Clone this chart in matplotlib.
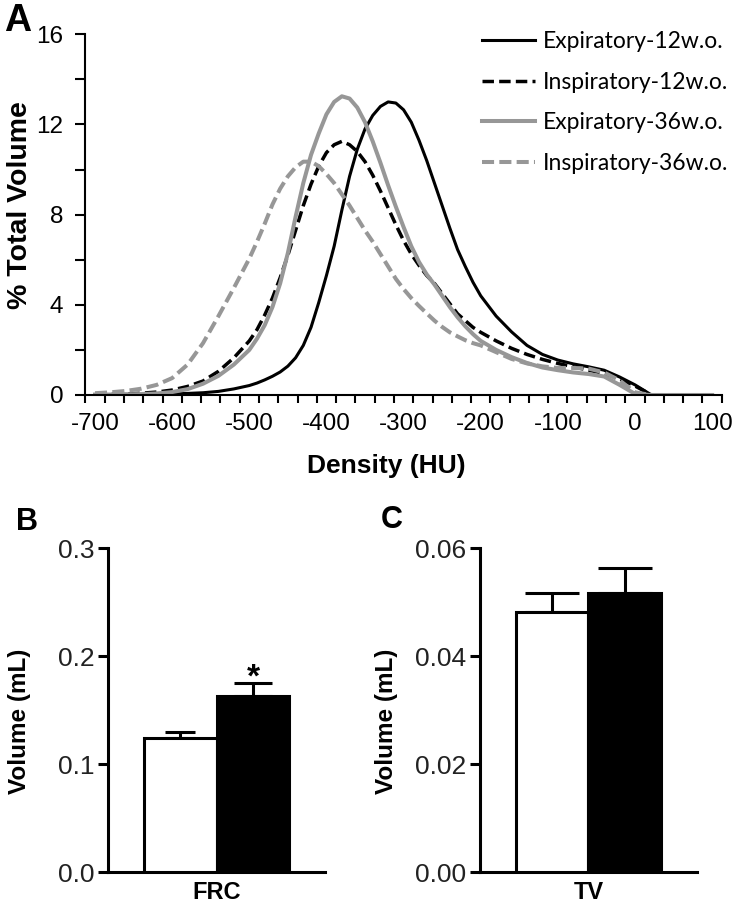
import numpy as np
import matplotlib
matplotlib.use("Agg")
import matplotlib.pyplot as plt

# density histogram (HU vs % total volume)
density = [-700, -680, -660, -640, -620, -600, -580, -560, -540, -520, -500,
           -490, -480, -470, -460, -450, -440, -430, -420, -410, -400,
           -390, -380, -370, -360, -350, -340, -330, -320, -310, -300,
           -290, -280, -270, -260, -250, -240, -230, -220, -210, -200,
           -180, -160, -140, -120, -100, -80, -60, -40, -20, 0, 20, 40, 60, 80, 100]
nan = np.nan
exp_12 = [0.02, 0.02, 0.03, 0.03, 0.04, 0.05, 0.07, 0.1, 0.16, 0.27, 0.42,
          0.53, 0.67, 0.83, 1.02, 1.28, 1.65, 2.2, 3.0, 4.1, 5.3,
          6.6, 8.2, 9.7, 10.9, 11.8, 12.4, 12.8, 13.0, 12.95, 12.65,
          12.1, 11.3, 10.4, 9.4, 8.4, 7.4, 6.45, 5.7, 5.0, 4.4,
          3.5, 2.8, 2.2, 1.8, 1.55, 1.38, 1.25, 1.1, 0.8, 0.45, 0.03, nan, nan, nan, nan]
insp_12 = [0.02, 0.03, 0.05, 0.08, 0.13, 0.22, 0.38, 0.62, 1.05, 1.65, 2.4,
           2.9, 3.55, 4.3, 5.2, 6.2, 7.3, 8.4, 9.35, 10.15, 10.75,
           11.1, 11.25, 11.1, 10.8, 10.35, 9.75, 9.05, 8.3, 7.55, 6.85,
           6.25, 5.75, 5.3, 4.95, 4.5, 4.05, 3.6, 3.3, 3.0, 2.78,
           2.4, 2.07, 1.8, 1.58, 1.4, 1.25, 1.1, 0.95, 0.72, 0.4, 0.03, nan, nan, nan, nan]
exp_36 = [0.02, 0.02, 0.03, 0.04, 0.07, 0.13, 0.26, 0.5, 0.85, 1.35, 2.0,
          2.5, 3.1, 3.9, 4.95, 6.3, 7.9, 9.4, 10.65, 11.6, 12.45,
          13.0, 13.25, 13.15, 12.75, 12.1, 11.25, 10.3, 9.3, 8.35, 7.45,
          6.6, 5.9, 5.35, 4.9, 4.4, 3.9, 3.45, 3.05, 2.7, 2.4,
          2.0, 1.68, 1.42, 1.22, 1.1, 1.0, 0.93, 0.82, 0.45, 0.05, 0, 0, 0, 0, 0]
insp_36 = [0.08, 0.12, 0.18, 0.28, 0.45, 0.75, 1.35, 2.3, 3.5, 4.75, 6.05,
           6.8, 7.6, 8.45, 9.15, 9.7, 10.1, 10.35, 10.35, 10.15, 9.8,
           9.4, 8.9, 8.4, 7.85, 7.3, 6.8, 6.25, 5.7, 5.15, 4.7,
           4.3, 3.95, 3.62, 3.3, 3.02, 2.78, 2.6, 2.43, 2.3, 2.2,
           1.9, 1.6, 1.4, 1.27, 1.2, 1.2, 1.17, 1.0, 0.65, 0.12, 0, 0, 0, 0, 0]
series_names = ["Expiratory-12w.o.", "Inspiratory-12w.o.", "Expiratory-36w.o.", "Inspiratory-36w.o."]

# bar panels: 12 w.o. (white) vs 36 w.o. (black)
frc_mean = [0.1244, 0.1635]
frc_sem = [0.0058, 0.0121]
tv_mean = [0.0482, 0.0518]
tv_sem = [0.0036, 0.0045]

GRAY = "#979797"
SANS = ["Liberation Sans", "DejaVu Sans"]
fig = plt.figure(figsize=(7.38, 9.07), dpi=100)

# ---- panel A
ax = fig.add_axes([0.1157, 0.5645, 0.8623, 0.3977])
ax.plot(density, exp_12, color="black", lw=2.2, label=series_names[0])
ax.plot(density, insp_12, color="black", lw=2.5, ls=(0, (3.3, 1.5)), label=series_names[1])
ax.plot(density, exp_36, color=GRAY, lw=2.9, label=series_names[2])
ax.plot(density, insp_36, color=GRAY, lw=2.9, ls=(0, (3.0, 1.3)), label=series_names[3])

ax.set_xlim(-712.5, 112.5)
ax.set_ylim(0, 16)
for s in ["top", "right"]:
    ax.spines[s].set_visible(False)
for s in ["left", "bottom"]:
    ax.spines[s].set_linewidth(1.5)
ax.set_xticks(np.arange(-712.5, 113, 25))
ax.set_xticklabels([])
ax.set_xticks(np.arange(-700, 101, 100), minor=True)
ax.set_xticklabels(["%d" % v for v in range(-700, 101, 100)], minor=True,
                   family=SANS, fontsize=17.5)
ax.tick_params(axis="x", which="major", direction="out", length=6, width=1.5)
ax.tick_params(axis="x", which="minor", length=0, pad=13)
ax.set_yticks([0, 4, 8, 12, 16])
ax.set_yticks([2, 6, 10, 14], minor=True)
ax.set_yticklabels(["0", "4", "8", "12", "16"], family=SANS, fontsize=17.5)
ax.tick_params(axis="y", which="both", direction="out", length=7, width=1.5, pad=9)

leg = ax.legend(loc="upper left", bbox_to_anchor=(471 / 738, 1 - 20 / 907),
                bbox_transform=fig.transFigure, frameon=False, borderpad=0,
                handlelength=2.3, handletextpad=0.35, labelspacing=0.85,
                prop={"family": "Lato", "size": 16.5})

fig.text(386 / 738, 1 - 466 / 907, "Density (HU)", family=SANS,
         weight="bold", fontsize=19, ha="center", va="center")
fig.text(20 / 738, 1 - 205 / 907, "% Total Volume", family=SANS,
         weight="bold", fontsize=20.5, ha="center", va="center", rotation=90)
fig.text(18 / 738, 1 - 21 / 907, "A", family=SANS,
         weight="bold", fontsize=27, ha="center", va="center")


def bar_panel(left, means, sems, ymax, yticks, fmt, xlabel, caps):
    bx = fig.add_axes([left, 0.0383, 0.2936, 0.3572])
    pos = [0.333, 0.668]
    bx.bar(pos, means, width=0.335, color=["white", "black"],
           edgecolor="black", linewidth=2.2, zorder=3)
    for p, m, e, c in zip(pos, means, sems, caps):
        bx.errorbar([p], [m], yerr=[[0], [e]], fmt="none", ecolor="black",
                    elinewidth=2.2, capsize=c, capthick=2.2, zorder=2)
    bx.set_xlim(0, 1)
    bx.set_ylim(0, ymax)
    for s in ["top", "right"]:
        bx.spines[s].set_visible(False)
    for s in ["left", "bottom"]:
        bx.spines[s].set_linewidth(2.2)
    bx.set_xticks([0.5])
    bx.set_xticklabels([xlabel], family=SANS, weight="bold", fontsize=17)
    bx.tick_params(axis="x", length=0, pad=6)
    bx.set_yticks(yticks)
    bx.set_yticklabels([fmt % v for v in yticks], family=SANS,
                       fontsize=19, color="#222222")
    bx.tick_params(axis="y", direction="out", length=7, width=2.2, pad=3)
    return bx


bB = bar_panel(0.1467, frc_mean, frc_sem, 0.3, [0.0, 0.1, 0.2, 0.3], "%.1f", "FRC", [10.8, 13.8])
bB.text(0.668, 0.1718, "*", family=SANS,
        weight="bold", fontsize=24, ha="center", va="baseline")
bC = bar_panel(0.6504, tv_mean, tv_sem, 0.06, [0.0, 0.02, 0.04, 0.06], "%.2f", "TV", [19.5, 19.5])

fig.text(20 / 738, 1 - 721 / 907, "Volume (mL)", family=SANS,
         weight="bold", fontsize=17.5, ha="center", va="center", rotation=90)
fig.text(387 / 738, 1 - 721 / 907, "Volume (mL)", family=SANS,
         weight="bold", fontsize=17.5, ha="center", va="center", rotation=90)
fig.text(27 / 738, 1 - 522 / 907, "B", family=SANS,
         weight="bold", fontsize=22, ha="center", va="center")
fig.text(392 / 738, 1 - 520 / 907, "C", family=SANS,
         weight="bold", fontsize=22, ha="center", va="center")

plt.savefig("out.png", dpi=100)
